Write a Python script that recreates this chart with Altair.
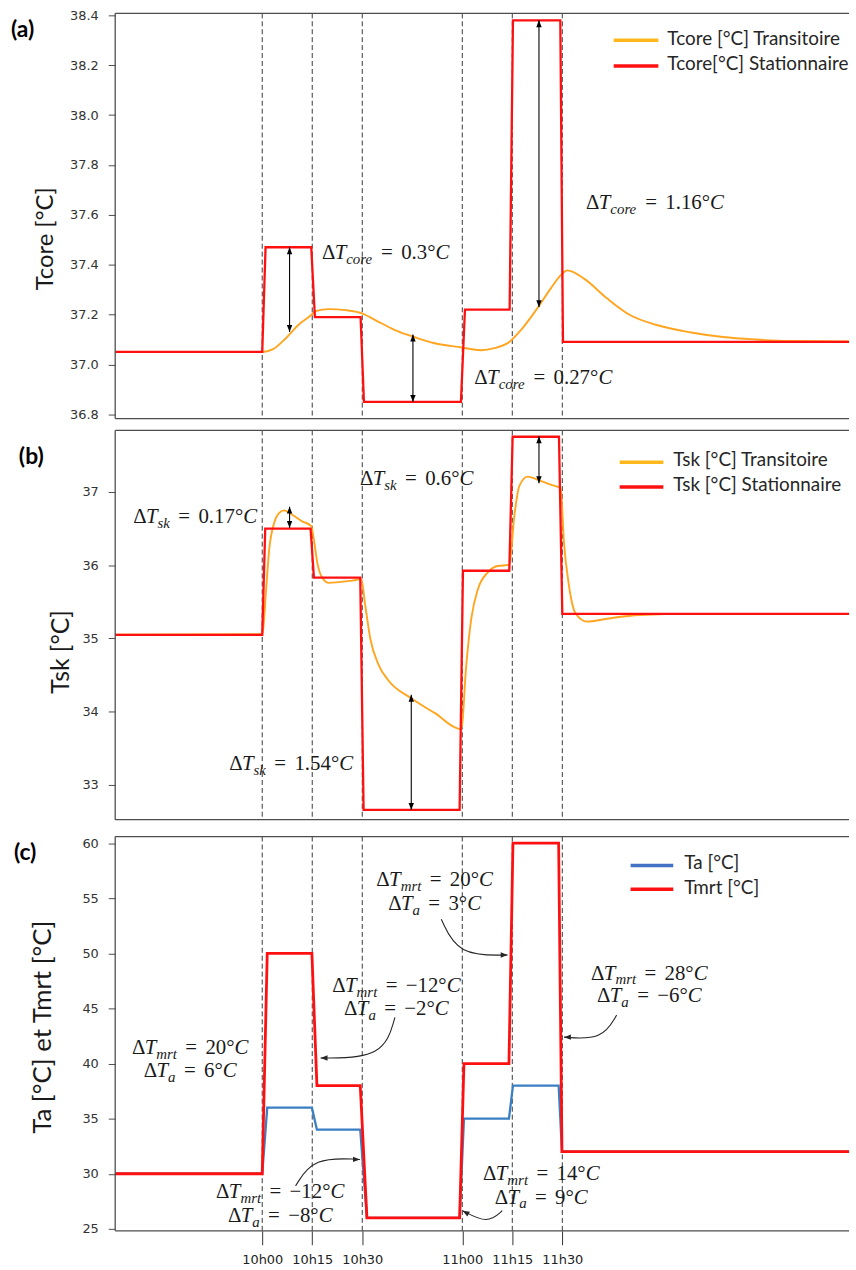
import altair as alt
import pandas as pd

# ---------------- data (time in minutes after 10h00) ----------------
X_MIN, X_MAX = -44.1, 176.0
tick_minutes = [0, 15, 30, 60, 75, 90]
tick_labels = ["10h00", "10h15", "10h30", "11h00", "11h15", "11h30"]

# (a) core temperature
core_stat_t = [X_MIN, 0.0, 1.0, 14.7, 15.8, 29.5, 30.5, 59.6, 60.8, 74.2, 75.2, 89.4, 90.2, X_MAX]
core_stat_v = [37.05, 37.05, 37.47, 37.47, 37.19, 37.19, 36.85, 36.85, 37.22, 37.22, 38.38, 38.38, 37.09, 37.09]
core_tr_t = [X_MIN, 0.0, 3.1, 7.1, 11.0, 14.7, 16.0, 20.0, 24.9, 29.9, 33.9, 39.8, 45.8, 51.7, 59.8, 65.6,
             69.6, 74.3, 77.6, 82.5, 86.5, 89.7, 91.5, 96.5, 103.4, 110.3, 118.3, 128.2, 138.2, 148.1, 158.0, X_MAX]
core_tr_v = [37.05, 37.05, 37.06, 37.105, 37.16, 37.198, 37.214, 37.222, 37.218, 37.205, 37.178, 37.138, 37.109,
             37.085, 37.068, 37.057, 37.065, 37.092, 37.138, 37.225, 37.304, 37.36, 37.377, 37.344, 37.265, 37.198,
             37.158, 37.129, 37.11, 37.1, 37.094, 37.092]

# (b) skin temperature
sk_stat_t = [X_MIN, 0.0, 0.9, 14.5, 15.5, 29.4, 30.4, 59.2, 60.2, 74.1, 75.1, 89.0, 90.0, X_MAX]
sk_stat_v = [35.05, 35.05, 36.50, 36.50, 35.83, 35.83, 32.66, 32.66, 35.925, 35.925, 37.755, 37.755, 35.336, 35.336]
sk_tr_t = [X_MIN, 0.1, 1.1, 2.1, 3.6, 5.1, 6.6, 9.0, 12.0, 14.7, 15.5, 16.5, 18.0, 20.0, 22.9, 26.9, 29.7, 30.9,
           32.4, 34.9, 37.8, 44.8, 51.8, 59.7, 61.2, 62.7, 64.7, 67.6, 70.6, 74.1, 75.6, 77.1, 79.6, 82.5, 86.5,
           89.5, 90.5, 92.0, 94.0, 97.4, 103.4, 113.3, 128.2, X_MAX]
sk_tr_v = [35.05, 35.06, 35.63, 36.22, 36.58, 36.715, 36.75, 36.69, 36.60, 36.535, 36.35, 36.04, 35.83, 35.76,
           35.77, 35.79, 35.81, 35.45, 35.0, 34.64, 34.43, 34.18, 33.98, 33.76, 34.64, 35.27, 35.675, 35.90, 35.99,
           36.005, 36.67, 37.08, 37.21, 37.17, 37.10, 37.05, 36.31, 35.72, 35.34, 35.23, 35.27, 35.32, 35.336, 35.336]

# (c) air and mean radiant temperature
amb_t = [X_MIN, 0.0, 1.5, 14.9, 16.4, 29.4, 31.4, 59.2, 60.5, 74.0, 75.2, 88.9, 89.9, X_MAX]
tmrt_v = [30, 30, 50, 50, 38, 38, 26, 26, 40, 40, 60, 60, 32, 32]
ta_v = [30, 30, 36, 36, 34, 34, 26, 26, 35, 35, 38, 38, 32, 32]

# annotated differences
core_notes = [("core", "0.3", 17.9, 37.424), ("core", "0.27", 63.6, 36.92), ("core", "1.16", 97.1, 37.624)]
sk_notes = [("sk", "0.17", -38.7, 36.58), ("sk", "0.6", 29.3, 37.10), ("sk", "1.54", -9.9, 33.21)]
amb_notes = [(-21.6, 40.9, 38.8, "20", "6"), (40.25, 46.48, 44.38, "−12", "−2"), (51.7, 56.1, 53.9, "20", "3"),
             (116.1, 47.63, 45.55, "28", "−6"), (5.4, 27.8, 25.6, "−12", "−8"), (83.7, 29.4, 27.3, "14", "9")]

core_arrows = [(8.2, 37.13, 37.47), (45.2, 36.85, 37.12), (83.0, 37.23, 38.38)]
sk_arrows = [(8.2, 36.51, 36.80), (44.7, 32.66, 34.23), (83.0, 37.12, 37.76)]
amb_curves = [
    ([(39.8, 44.2), (36.3, 40.5), (17.5, 40.5)], 270),
    ([(53.7, 53.1), (58.7, 49.8), (73.6, 49.85)], 90),
    ([(106.3, 44.4), (101.9, 42.15), (90.5, 42.4)], 270),
    ([(10.0, 28.9), (15.4, 31.5), (29.3, 31.3)], 90),
    ([(72.0, 26.65), (67.6, 25.45), (60.1, 26.65)], 300),
]

# ---------------- styles / layout ----------------
RED, ORANGE, BLUE = "#ff1010", "#ffa51f", "#3a7ec4"
FRAME = "#4d4d4d"
PANEL_W = 739
PXM = PANEL_W / (X_MAX - X_MIN)
TIP = "M0,0L-0.7,1.8L0.7,1.8Z"
ONE = pd.DataFrame({"k": [0]})

REG_W = {" ": 0.25, "=": 0.564, ".": 0.25, "°": 0.4, "−": 0.564, "Δ": 0.612}
IT_W = {"T": 0.556, "C": 0.667, "c": 0.444, "o": 0.5, "r": 0.389, "e": 0.444,
        "s": 0.389, "k": 0.444, "m": 0.722, "t": 0.278, "a": 0.5}
MAIN, SUB, SUB_DY, GAP = 21, 15, 5, 0.4


def text_w(s, italic, size):
    tbl = IT_W if italic else REG_W
    return sum(tbl.get(ch, 0.5) for ch in s) * size


def math_line(sub, val):
    spec = [("Δ", False, MAIN, 0, 0), ("T", True, MAIN, 0, 0), (sub, True, SUB, SUB_DY, 0),
            ("=", False, MAIN, 0, GAP * MAIN), (val + "°", False, MAIN, 0, GAP * MAIN), ("C", True, MAIN, 0, 0)]
    cur, out = 0.0, []
    for txt, it, sz, dy, gap in spec:
        cur += gap
        out.append((cur, dy, txt, it, sz))
        cur += text_w(txt, it, sz)
    return out, cur


def note_rows(sub, val, x, y, pxu, center=False):
    pieces, w = math_line(sub, val)
    start = -w / 2 if center else 0.0
    return [dict(t=x + (start + off) / PXM, v=y - dy / pxu, text=txt, italic=it, size=sz)
            for off, dy, txt, it, sz in pieces]


label_expr = " : ".join(f"datum.value == {m} ? '{l}'" for m, l in zip(tick_minutes, tick_labels)) + " : ''"


def build_panel(h, dom, yticks, yfmt, xaxis, series, arrows, notes, curves, legend, title, tag):
    yaxis = alt.Axis(values=yticks, format=yfmt, title=None, grid=False, domain=False, tickSize=7,
                     tickColor=FRAME, tickWidth=1, labelFont="DejaVu Sans", labelFontSize=13,
                     labelColor="#333333", labelPadding=10, labelFlush=False)
    xs = alt.Scale(domain=[X_MIN, X_MAX], nice=False, zero=False)
    ys = alt.Scale(domain=list(dom), nice=False, zero=False)

    def X():
        return alt.X("t:Q", scale=xs, axis=xaxis)

    def Y():
        return alt.Y("v:Q", scale=ys, axis=yaxis)

    layers = []
    layers.append(alt.Chart(pd.DataFrame({"t": tick_minutes})).mark_rule(
        color="#222222", strokeWidth=0.9, strokeDash=[5, 3]).encode(x=X()))
    for t, v, color, width, interp in series:
        layers.append(alt.Chart(pd.DataFrame({"t": t, "v": v})).mark_line(
            color=color, strokeWidth=width, interpolate=interp).encode(x=X(), y=Y()))
    if arrows:
        adf = pd.DataFrame([dict(t=a, v=b, v2=c) for a, b, c in arrows])
        layers.append(alt.Chart(adf).mark_rule(color="black", strokeWidth=1.1).encode(
            x=X(), y=Y(), y2=alt.Y2("v2:Q")))
        hdf = pd.DataFrame([dict(t=a, v=b, ang=180) for a, b, c in arrows] +
                           [dict(t=a, v=c, ang=0) for a, b, c in arrows])
        layers.append(alt.Chart(hdf).mark_point(shape=TIP, filled=True, color="black", size=60, opacity=1,
                                                strokeWidth=0).encode(
            x=X(), y=Y(), angle=alt.Angle("ang:Q", scale=None)))
    if curves:
        rows, heads = [], []
        for i, (pts, ang) in enumerate(curves):
            for j, (a, b) in enumerate(pts):
                rows.append(dict(id=i, seq=j, t=a, v=b))
            heads.append(dict(t=pts[-1][0], v=pts[-1][1], ang=ang))
        layers.append(alt.Chart(pd.DataFrame(rows)).mark_line(
            color="#262626", strokeWidth=1.1, interpolate="basis").encode(
            x=X(), y=Y(), detail="id:N", order="seq:Q"))
        layers.append(alt.Chart(pd.DataFrame(heads)).mark_point(
            shape=TIP, filled=True, color="#262626", size=60, opacity=1, strokeWidth=0).encode(
            x=X(), y=Y(), angle=alt.Angle("ang:Q", scale=None)))
    ndf = pd.DataFrame(notes)
    for italic in (False, True):
        sub = ndf[ndf["italic"] == italic]
        layers.append(alt.Chart(sub).mark_text(
            align="left", baseline="alphabetic", font="Liberation Serif",
            fontStyle="italic" if italic else "normal", color="#1a1a1a").encode(
            x=X(), y=Y(), text="text:N", size=alt.Size("size:Q", scale=None, legend=None)))
    # legend
    x0, x1, tx, items = legend
    for color, label, sy, ty in items:
        layers.append(alt.Chart(ONE).mark_rule(color=color, strokeWidth=3.5).encode(
            x=alt.value(x0), x2=alt.value(x1), y=alt.value(sy)))
        layers.append(alt.Chart(ONE).mark_text(
            text=label, align="left", baseline="alphabetic", font="Lato", fontSize=19,
            color="#262626").encode(x=alt.value(tx), y=alt.value(ty)))
    # axis title and panel tag
    ttext, ttx, tty, tsz = title
    layers.append(alt.Chart(ONE).mark_text(
        text=ttext, angle=270, align="center", baseline="alphabetic", font="Lato", fontSize=tsz,
        color="#1a1a1a").encode(x=alt.value(ttx), y=alt.value(tty)))
    gtext, gx, gy = tag
    layers.append(alt.Chart(ONE).mark_text(
        text=gtext, align="left", baseline="alphabetic", font="Lato", fontWeight="bold", fontSize=23,
        color="black").encode(x=alt.value(gx), y=alt.value(gy)))
    # frame (top, bottom, left)
    layers.append(alt.Chart(ONE).mark_rule(color=FRAME, strokeWidth=1.3).encode(
        x=alt.value(0), x2=alt.value(PANEL_W), y=alt.value(0)))
    layers.append(alt.Chart(ONE).mark_rule(color=FRAME, strokeWidth=1.3).encode(
        x=alt.value(0), x2=alt.value(PANEL_W), y=alt.value(h)))
    layers.append(alt.Chart(ONE).mark_rule(color=FRAME, strokeWidth=1.3).encode(
        x=alt.value(0), y=alt.value(0), y2=alt.value(h)))
    return alt.layer(*layers).properties(width=PANEL_W, height=h)


# panel (a)
HA, DOMA = 408, (36.783, 38.408)
pxu_a = HA / (DOMA[1] - DOMA[0])
notes_a = [r for s, v, x, y in core_notes for r in note_rows(s, v, x, y, pxu_a)]
pa = build_panel(
    HA, DOMA, [36.8, 37.0, 37.2, 37.4, 37.6, 37.8, 38.0, 38.2, 38.4], ".1f", None,
    [(core_tr_t, core_tr_v, ORANGE, 1.9, "monotone"), (core_stat_t, core_stat_v, RED, 2.3, "linear")],
    core_arrows, notes_a, None,
    (502, 547, 556, [("#ffb81c", "Tcore [°C] Transitoire", 27, 32), (RED, "Tcore[°C] Stationnaire", 53, 57)]),
    ("Tcore [°C]", -63, 227, 24), ("(a)", -105, 24))

# panel (b)
HB, DOMB = 392, (32.525, 37.841)
pxu_b = HB / (DOMB[1] - DOMB[0])
notes_b = [r for s, v, x, y in sk_notes for r in note_rows(s, v, x, y, pxu_b)]
xaxis_b = alt.Axis(values=tick_minutes, labels=False, title=None, grid=False, domain=False,
                   tickSize=8, tickColor="white")
pb = build_panel(
    HB, DOMB, [33, 34, 35, 36, 37], "d", xaxis_b,
    [(sk_tr_t, sk_tr_v, ORANGE, 1.9, "monotone"), (sk_stat_t, sk_stat_v, RED, 2.3, "linear")],
    sk_arrows, notes_b, None,
    (508, 552, 562, [("#ffb81c", "Tsk [°C] Transitoire", 32, 36), (RED, "Tsk [°C] Stationnaire", 57, 61)]),
    ("Tsk [°C]", -47, 223, 25), ("(b)", -97, 34))

# panel (c)
HC, DOMC = 397, (24.82, 60.6)
pxu_c = HC / (DOMC[1] - DOMC[0])
notes_c = []
for x, y1, y2, dm, da in amb_notes:
    notes_c += note_rows("mrt", dm, x, y1, pxu_c, center=True)
    notes_c += note_rows("a", da, x, y2, pxu_c, center=True)
xaxis_c = alt.Axis(values=tick_minutes, labelExpr=label_expr, title=None, grid=False, domain=False,
                   tickSize=14, tickColor="#333333", tickWidth=1, labelFont="DejaVu Sans", labelFontSize=13,
                   labelColor="#222222", labelPadding=9, labelFlush=False)
pc = build_panel(
    HC, DOMC, [25, 30, 35, 40, 45, 50, 55, 60], "d", xaxis_c,
    [(amb_t, ta_v, BLUE, 2.3, "linear"), (amb_t, tmrt_v, RED, 2.8, "linear")],
    None, notes_c, amb_curves,
    (519, 562, 573, [("#4472c4", "Ta [°C]", 29, 33), (RED, "Tmrt [°C]", 53, 58)]),
    ("Ta [°C] et Tmrt [°C]", -65, 192, 26), ("(c)", -102, 24))

chart = alt.vconcat(pa, pb, pc, spacing=6).properties(
    padding={"left": 10, "top": 4, "right": 0, "bottom": 0},
    background="white",
).configure_view(stroke="transparent")

chart.save("out.html", embed_options={"renderer": "svg", "actions": False})
